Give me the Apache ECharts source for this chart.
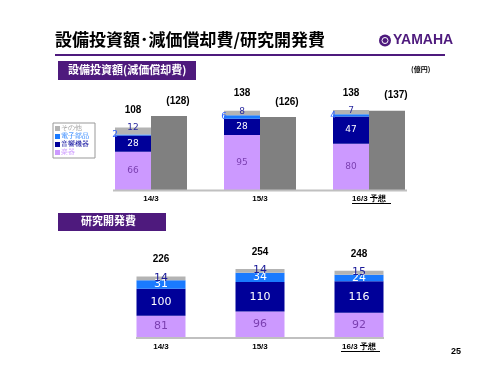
<!DOCTYPE html>
<html>
<head>
<meta charset="utf-8">
<script src="https://cdn.jsdelivr.net/npm/echarts@6/dist/echarts.min.js"></script>
<style>
    html, body { margin: 0; padding: 0; background: #fff; }
    #main { width: 500px; height: 375px; }
</style>
</head>
<body>
<div id="main"></div>
<script>
    var categories = ['14/3', '15/3', '16/3 予想'];

    //設備投資額
    var capGakki = [66, 95, 80];
    var capOnkyo = [28, 28, 47];
    var capDenshi = [2, 6, 4];
    var capOther = [12, 8, 7];
    var capTotal = [108, 138, 138];
    var depreciation = [128, 126, 137];

    //研究開発費
    var rdGakki = [81, 96, 92];
    var rdOnkyo = [100, 110, 116];
    var rdDenshi = [31, 34, 24];
    var rdOther = [14, 14, 15];
    var rdTotal = [226, 254, 248];

    var purple = '#4e1a7d';
    var colors = { gakki: '#cc99ff', onkyo: '#000099', denshi: '#1a7aff', other: '#b3b3b3', dep: '#808080' };
    var numFont = 'DejaVu Sans, sans-serif';
    var boldFont = 'Liberation Sans, Arial, sans-serif';

    function stackBar(name, data, color, xi, width, label) {
        return {
            name: name, type: 'bar', stack: 's' + xi, xAxisIndex: xi, yAxisIndex: xi,
            barWidth: width, barGap: '0%', data: data,
            itemStyle: { color: color }, label: label
        };
    }

    function totalBar(data, xi, width) {
        return {
            type: 'bar', stack: 's' + xi, xAxisIndex: xi, yAxisIndex: xi,
            barWidth: width, barGap: '0%', silent: true,
            data: data.map(function () { return 0; }),
            itemStyle: { color: 'transparent' },
            label: {
                show: true, position: 'top', distance: 12,
                fontFamily: boldFont, fontWeight: 'bold', fontSize: 10, color: '#000',
                formatter: function (p) { return data[p.dataIndex]; }
            }
        };
    }

    function xAxisCfg(gi) {
        return {
            type: 'category', gridIndex: gi, data: categories,
            axisLine: { show: false },
            axisTick: { show: false },
            axisLabel: { margin: 5, fontSize: 8, fontWeight: 'bold', color: '#000', fontFamily: boldFont }
        };
    }

    var chart = echarts.init(document.getElementById('main'));
    var option = {
        animation: false,
        grid: [
            { left: 96.5, width: 327, top: 80, height: 110 },
            { left: 111.5, width: 297, top: 256.5, height: 81 }
        ],
        xAxis: [xAxisCfg(0), xAxisCfg(1)],
        yAxis: [
            { type: 'value', gridIndex: 0, min: 0, max: 190, show: false },
            { type: 'value', gridIndex: 1, min: 0, max: 300, show: false }
        ],
        legend: {
            orient: 'vertical', left: 53, top: 123,
            itemWidth: 5, itemHeight: 5, itemGap: 1,
            padding: [2, 6, 2, 2],
            borderColor: '#999', borderWidth: 1,
            icon: 'rect',
            textStyle: { fontSize: 7, padding: [0, 0, 0, -4] },
            data: [
                { name: 'その他', textStyle: { color: '#a0a0a0' } },
                { name: '電子部品', textStyle: { color: '#1a7aff' } },
                { name: '音響機器', textStyle: { color: '#000099' } },
                { name: '楽器', textStyle: { color: '#cc99ff' } }
            ]
        },
        series: [
            //上段
            stackBar('楽器', capGakki, colors.gakki, 0, 36,
                { show: true, position: 'inside', fontSize: 9, color: '#7a3fb0', fontFamily: numFont }),
            stackBar('音響機器', capOnkyo, colors.onkyo, 0, 36,
                { show: true, position: 'inside', fontSize: 9, color: '#fff', fontFamily: numFont }),
            stackBar('電子部品', capDenshi, colors.denshi, 0, 36,
                { show: true, position: 'left', distance: -3, fontSize: 9, color: '#3366ff', fontFamily: numFont }),
            stackBar('その他', capOther, colors.other, 0, 36,
                { show: true, position: 'top', distance: -5, fontSize: 9, color: '#2a2aa0', fontFamily: numFont }),
            totalBar(capTotal, 0, 36),
            {
                name: '減価償却費', type: 'bar', xAxisIndex: 0, yAxisIndex: 0,
                barWidth: 36, barGap: '0%', data: depreciation,
                itemStyle: { color: colors.dep },
                label: {
                    show: true, position: 'top', distance: 10, offset: [9, 0],
                    fontFamily: boldFont, fontWeight: 'bold', fontSize: 10, color: '#000',
                    formatter: '({c})'
                }
            },

            //下段
            stackBar('楽器', rdGakki, colors.gakki, 1, 49,
                { show: true, position: 'inside', fontSize: 11, color: '#7a3fb0', fontFamily: numFont }),
            stackBar('音響機器', rdOnkyo, colors.onkyo, 1, 49,
                { show: true, position: 'inside', fontSize: 11, color: '#fff', fontFamily: numFont }),
            stackBar('電子部品', rdDenshi, colors.denshi, 1, 49,
                { show: true, position: 'inside', fontSize: 11, color: '#fff', fontFamily: numFont }),
            stackBar('その他', rdOther, colors.other, 1, 49,
                { show: true, position: 'top', distance: -7, fontSize: 11, color: '#1a1a99', fontFamily: numFont }),
            totalBar(rdTotal, 1, 49)
        ],
        graphic: [
            //タイトル
            {
                type: 'text', left: 55, top: 31,
                style: { text: '設備投資額･減価償却費/研究開発費', fontSize: 17, fontWeight: 'bold', fill: '#000', fontFamily: 'Noto Sans CJK JP' }
            },
            { type: 'line', shape: { x1: 55, y1: 55, x2: 445, y2: 55 }, style: { stroke: purple, lineWidth: 2 } },
            //ロゴ
            { type: 'circle', shape: { cx: 385, cy: 40.5, r: 6 }, style: { fill: purple } },
            { type: 'circle', shape: { cx: 385, cy: 40.5, r: 3 }, style: { fill: 'none', stroke: '#fff', lineWidth: 1 } },
            {
                type: 'text', left: 393, top: 33,
                style: { text: 'YAMAHA', fontSize: 14, fontWeight: 'bold', fill: purple, fontFamily: 'Liberation Sans Narrow, Liberation Sans, sans-serif' }
            },
            //見出し
            { type: 'rect', shape: { x: 58, y: 61, width: 138, height: 19 }, style: { fill: purple } },
            {
                type: 'text', left: 68, top: 64,
                style: { text: '設備投資額(減価償却費)', fontSize: 11, fontWeight: 'bold', fill: '#fff', fontFamily: 'Noto Sans CJK JP' }
            },
            {
                type: 'text', left: 411, top: 66,
                style: { text: '(億円)', fontSize: 7, fontWeight: 'bold', fill: '#000', fontFamily: 'Noto Sans CJK JP' }
            },
            { type: 'rect', shape: { x: 58, y: 213, width: 108, height: 18 }, style: { fill: purple } },
            {
                type: 'text', left: 81, top: 215,
                style: { text: '研究開発費', fontSize: 11, fontWeight: 'bold', fill: '#fff', fontFamily: 'Noto Sans CJK JP' }
            },
            //軸線
            { type: 'line', z: 5, shape: { x1: 113, y1: 190.5, x2: 407, y2: 190.5 }, style: { stroke: '#c0c0c0', lineWidth: 2 } },
            { type: 'line', z: 5, shape: { x1: 136, y1: 338, x2: 384, y2: 338 }, style: { stroke: '#c0c0c0', lineWidth: 2 } },
            //予想の下線
            { type: 'line', shape: { x1: 352, y1: 203.5, x2: 391, y2: 203.5 }, style: { stroke: '#000', lineWidth: 1 } },
            { type: 'line', shape: { x1: 341, y1: 351.5, x2: 380, y2: 351.5 }, style: { stroke: '#000', lineWidth: 1 } },
            //ページ番号
            {
                type: 'text', left: 451, top: 347,
                style: { text: '25', fontSize: 9, fontWeight: 'bold', fill: '#000', fontFamily: boldFont }
            }
        ]
    };
    chart.setOption(option);
</script>
</body>
</html>
